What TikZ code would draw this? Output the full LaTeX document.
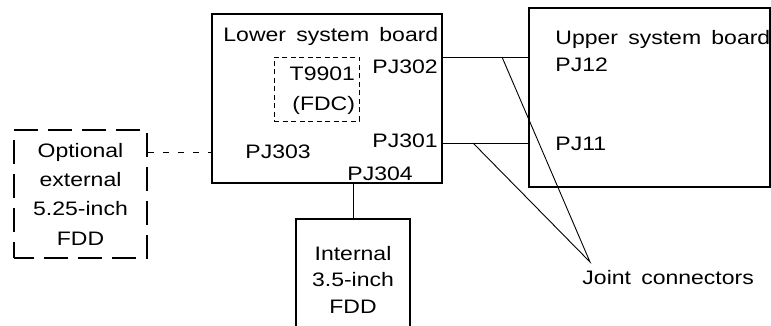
\documentclass[tikz,border=0pt]{standalone}
\usepackage{fontspec}
\setmainfont{Liberation Sans}[FakeStretch=1.18, WordSpace=1.6]
\begin{document}
\begin{tikzpicture}[x=1pt, y=-1pt, line width=0.9pt, font=\fontsize{19.5}{29.3}\selectfont]
\tikzset{
	board/.style={draw, line width=1.6pt, inner sep=0pt},
	drive/.style={draw, line width=1.1pt, align=center, inner sep=0pt},
	optdrive/.style={draw, line width=1.6pt, dash pattern=on 24pt off 10pt, dash phase=4pt, align=center, inner sep=0pt},
	chip/.style={draw, line width=0.8pt, dash pattern=on 5pt off 3.5pt, inner sep=0pt},
	lbl/.style={anchor=base west, inner sep=0pt}
}
\useasboundingbox (0,0) rectangle (771,326);

% Boards
\node[board, minimum width=230pt, minimum height=169pt] (lower) at (327,98.5) {};
\node[board, minimum width=241pt, minimum height=179pt] (upper) at (649.5,97.5) {};

% Lower board contents
\node[lbl] (lowertitle) at (223,41.5) {Lower system board};
\node[chip, minimum width=85pt, minimum height=64pt] (fdc) at (316.5,89) {};
\node[anchor=east, align=right, inner sep=0pt, font=\fontsize{19.5}{30}\selectfont] (fdclbl) at ([xshift=-4pt, yshift=-2pt]fdc.east) {T9901\\(FDC)};
\node[lbl] (pj302) at (372,74) {PJ302};
\node[lbl] (pj301) at (372,148) {PJ301};
\node[lbl] (pj303) at (245,159) {PJ303};
\node[lbl] (pj304) at (347,180) {PJ304};

% Upper board contents
\node[lbl] (uppertitle) at (555,45) {Upper system board};
\node[lbl] (pj12) at (555,72) {PJ12};
\node[lbl] (pj11) at (555,150) {PJ11};

% Drives
\node[optdrive, minimum width=133pt, minimum height=128pt] (optfdd) at (80.5,194)
{Optional\\external\\5.25-inch\\FDD};
\node[drive, minimum width=114pt, minimum height=121pt, font=\fontsize{19.5}{26.5}\selectfont] (intfdd) at (353,279.5)
{Internal\\3.5-inch\\FDD};

% Cables and joint connectors
\coordinate (j302) at (502,57);
\coordinate (j301) at (473,143);
\coordinate (jc) at (590,262);
\node[lbl] (joint) at (582,284) {Joint connectors};

\draw (lower.east |- j302) -- (upper.west |- j302);
\draw (lower.east |- j301) -- (upper.west |- j301);
\draw (j302) -- (jc) -- (j301);
\draw[dash pattern=on 6pt off 9pt] (optfdd.east |- pj303) -- (lower.west |- pj303);
\draw (lower.south -| intfdd) -- (intfdd.north);

\end{tikzpicture}
\end{document}
